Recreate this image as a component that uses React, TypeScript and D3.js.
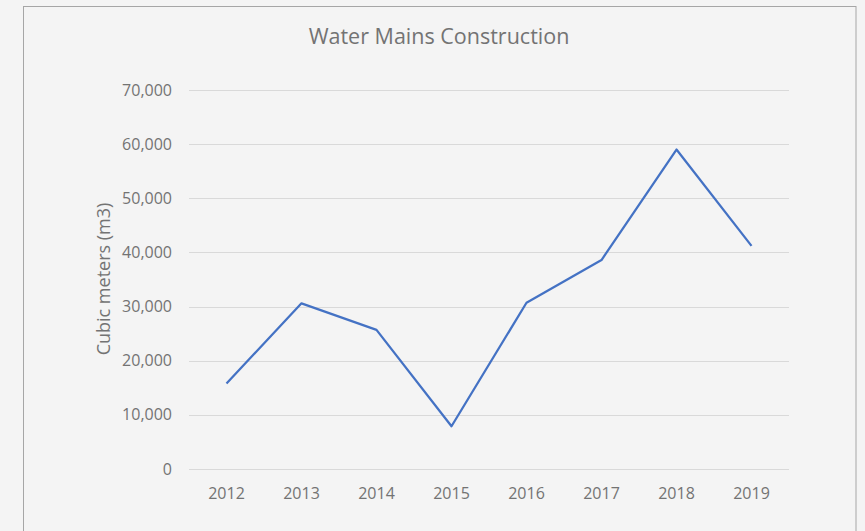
import React from 'react';
import * as d3 from 'd3';

const years = ['2012', '2013', '2014', '2015', '2016', '2017', '2018', '2019'];
const volumes = [15800, 30600, 25700, 7900, 30700, 38600, 59000, 41200];
const yTicks = [0, 10000, 20000, 30000, 40000, 50000, 60000, 70000];

const WIDTH = 865;
const HEIGHT = 531;
const FONT = '"Open Sans", "Noto Sans", sans-serif';
const TEXT = '#737373';

const App = () => {
  // plot area
  const left = 189;
  const right = 789;
  const top = 90;
  const bottom = 469;

  const xScale = d3.scaleBand()
    .domain(years)
    .range([left, right]);

  const yScale = d3.scaleLinear()
    .domain([0, 70000])
    .range([bottom, top]);

  const fmt = d3.format(',');

  const line = d3.line<number>()
    .x((d, i) => (xScale(years[i]) as number) + xScale.bandwidth() / 2)
    .y(d => yScale(d));

  return (
    <svg
      width={WIDTH}
      height={HEIGHT}
      style={{ position: 'fixed', top: 0, left: 0, display: 'block' }}
    >
      <rect x={0} y={0} width={WIDTH} height={HEIGHT} fill="#f4f4f4" />
      <rect x={23.5} y={6.5} width={832.5} height={540} fill="#f4f4f4" stroke="#a6a6a6" strokeWidth={1} />

      <text
        x={439}
        y={44}
        textAnchor="middle"
        fontFamily={FONT}
        fontSize={21.5}
        fill={TEXT}
      >
        Water Mains Construction
      </text>

      {yTicks.map(t => (
        <g key={t}>
          <line
            x1={left}
            x2={right}
            y1={Math.round(yScale(t)) + 0.5}
            y2={Math.round(yScale(t)) + 0.5}
            stroke="#d9d9d9"
            strokeWidth={1}
          />
          <text
            x={172}
            y={yScale(t)}
            dy="0.35em"
            textAnchor="end"
            fontFamily={FONT}
            fontSize={16}
            fill={TEXT}
          >
            {fmt(t)}
          </text>
        </g>
      ))}

      {years.map(y => (
        <text
          key={y}
          x={(xScale(y) as number) + xScale.bandwidth() / 2}
          y={493}
          dy="0.35em"
          textAnchor="middle"
          fontFamily={FONT}
          fontSize={16}
          fill={TEXT}
        >
          {y}
        </text>
      ))}

      <text
        transform={`translate(104, 279) rotate(-90)`}
        textAnchor="middle"
        dy="0.35em"
        fontFamily={FONT}
        fontSize={18}
        fill={TEXT}
      >
        Cubic meters (m3)
      </text>

      <path
        d={line(volumes) || ''}
        fill="none"
        stroke="#4472c4"
        strokeWidth={2.25}
        strokeLinejoin="round"
      />
    </svg>
  );
};

export default App;
